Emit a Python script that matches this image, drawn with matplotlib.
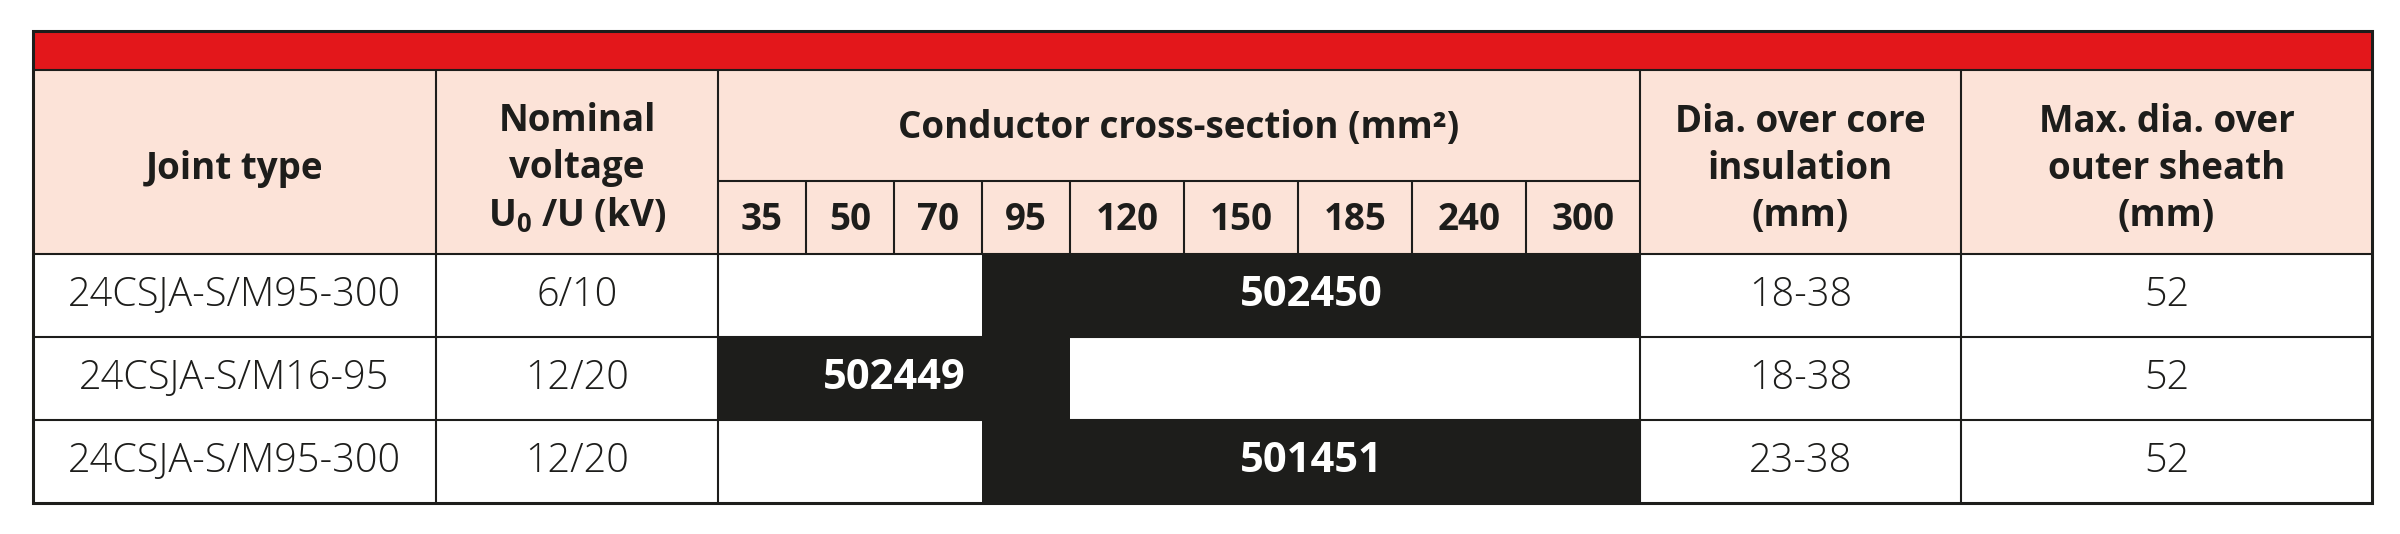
#! python3

# JOINT SELECTION TABLE

import matplotlib.pyplot as plt
from matplotlib.patches import Rectangle

plt.rcParams['font.family'] = ['Open Sans', 'DejaVu Sans']
plt.rcParams['mathtext.fontset'] = 'custom'
plt.rcParams['mathtext.rm'] = 'Open Sans'
plt.rcParams['mathtext.bf'] = 'Open Sans:bold'


# DATA

joint_types = ['24CSJA-S/M95-300', '24CSJA-S/M16-95', '24CSJA-S/M95-300']
voltages = ['6/10', '12/20', '12/20']
sections = [35, 50, 70, 95, 120, 150, 185, 240, 300]
range_from = [95, 35, 95]
range_to = [300, 95, 300]
article_no = ['502450', '502449', '501451']
dia_core = ['18-38', '18-38', '23-38']
dia_sheath = ['52', '52', '52']

head_joint = 'Joint type'
head_voltage = 'Nominal\nvoltage\nU$_\\mathbf{0}$ /U (kV)'
head_section = 'Conductor cross-section (mm²)'
head_core = 'Dia. over core\ninsulation\n(mm)'
head_sheath = 'Max. dia. over\nouter sheath\n(mm)'


# LAYOUT (pixels)

X_LEFT, X_JOINT, X_VOLT = 33, 436, 718
SEC_EDGES = [718, 806, 894, 982, 1070, 1184, 1298, 1412, 1526, 1640]
X_CORE, X_RIGHT = 1961, 2372
Y_TOP, Y_RED, Y_SUB, Y_HEAD = 31, 70, 181, 254
ROW_H = 83

RED = '#e3171b'
PINK = '#fce3d8'
INK = '#1d1d1b'


def main():
	fig = plt.figure(figsize=(24, 5.34), dpi=100)
	ax = fig.add_axes([0, 0, 1, 1])
	ax.set_xlim(0, 2400)
	ax.set_ylim(534, 0)
	ax.axis('off')

	n_rows = len(joint_types)
	y_bottom = Y_HEAD + ROW_H * n_rows
	row_mid = [Y_HEAD + ROW_H * (i + 0.5) for i in range(n_rows)]

	# Red band and header background
	ax.add_patch(Rectangle((X_LEFT, Y_TOP), X_RIGHT - X_LEFT, Y_RED - Y_TOP,
		facecolor=RED, edgecolor='none'))
	ax.add_patch(Rectangle((X_LEFT, Y_RED), X_RIGHT - X_LEFT, Y_HEAD - Y_RED,
		facecolor=PINK, edgecolor='none'))

	# Black bars for the cross-section range of each joint
	lefts = [SEC_EDGES[sections.index(a)] for a in range_from]
	rights = [SEC_EDGES[sections.index(b) + 1] for b in range_to]
	widths = [r - l for l, r in zip(lefts, rights)]
	ax.barh(row_mid, widths, left=lefts, height=ROW_H, color=INK, zorder=2)

	# Grid lines
	lw = 1.5
	ax.hlines([Y_RED, Y_HEAD] + [Y_HEAD + ROW_H * i for i in range(1, n_rows)],
		X_LEFT, X_RIGHT, colors=INK, linewidths=lw, zorder=3)
	ax.hlines(Y_SUB, X_VOLT, SEC_EDGES[-1], colors=INK, linewidths=lw, zorder=3)
	ax.vlines([X_JOINT, X_VOLT, SEC_EDGES[-1], X_CORE], Y_RED, y_bottom,
		colors=INK, linewidths=lw, zorder=3)
	ax.vlines(SEC_EDGES[1:-1], Y_SUB, Y_HEAD, colors=INK, linewidths=lw, zorder=3)
	ax.add_patch(Rectangle((X_LEFT, Y_TOP), X_RIGHT - X_LEFT, y_bottom - Y_TOP,
		facecolor='none', edgecolor=INK, linewidth=2.2, zorder=4))

	# Header texts
	head_kw = dict(ha='center', va='center', fontsize=26.5, fontweight='bold',
		color=INK, linespacing=1.3, zorder=5)
	head_mid = (Y_RED + Y_HEAD) / 2 + 7
	ax.text((X_LEFT + X_JOINT) / 2, head_mid, head_joint, **head_kw)
	ax.text((X_JOINT + X_VOLT) / 2, head_mid, head_voltage, **head_kw)
	ax.text((SEC_EDGES[0] + SEC_EDGES[-1]) / 2, (Y_RED + Y_SUB) / 2 + 3,
		head_section, **head_kw)
	ax.text((SEC_EDGES[-1] + X_CORE) / 2, head_mid, head_core, **head_kw)
	ax.text((X_CORE + X_RIGHT) / 2, head_mid, head_sheath, **head_kw)
	for i, s in enumerate(sections):
		ax.text((SEC_EDGES[i] + SEC_EDGES[i + 1]) / 2, (Y_SUB + Y_HEAD) / 2 + 2,
			str(s), **head_kw)

	# Body texts
	body_kw = dict(ha='center', va='center', fontsize=28.5, fontweight='light',
		color=INK, zorder=5)
	for i in range(n_rows):
		y = row_mid[i]
		ax.text((X_LEFT + X_JOINT) / 2, y, joint_types[i], **body_kw)
		ax.text((X_JOINT + X_VOLT) / 2, y, voltages[i], **body_kw)
		ax.text((SEC_EDGES[-1] + X_CORE) / 2, y, dia_core[i], **body_kw)
		ax.text((X_CORE + X_RIGHT) / 2, y, dia_sheath[i], **body_kw)
		ax.text(lefts[i] + widths[i] / 2, y, article_no[i], ha='center', va='center',
			fontsize=30, fontweight='bold', color='white', zorder=5)

	fig.savefig('out.png', dpi=100)


if __name__ == '__main__':
	main()
